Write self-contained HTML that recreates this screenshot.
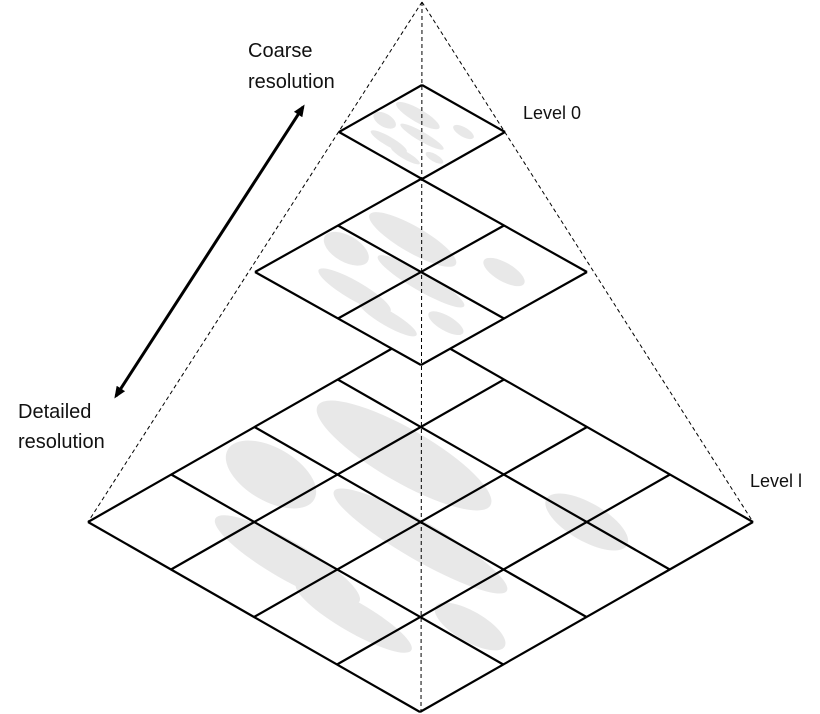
<!DOCTYPE html>
<html><head><meta charset="utf-8"><style>
html,body{margin:0;padding:0;background:#fff;}
svg{display:block;}
text{font-family:"Liberation Sans",sans-serif;font-size:20px;fill:#111;}
</style></head><body>
<svg id="s" width="820" height="714" viewBox="0 0 820 714">
<defs>
<marker id="ah" markerWidth="12" markerHeight="10" refX="9" refY="5" orient="auto-start-reverse" markerUnits="userSpaceOnUse">
<path d="M0,0 L12,5 L0,10 Z" fill="#000"/></marker>
</defs>
<g id="layers"></g>
<g stroke="#000" stroke-width="1" stroke-dasharray="4,3" fill="none">
<line x1="422" y1="2" x2="88" y2="522"/>
<line x1="422" y1="2" x2="753" y2="522"/>
<line x1="422" y1="2" x2="421" y2="712"/>
</g>
<line x1="116" y1="396" x2="303" y2="107" stroke="#000" stroke-width="3" marker-start="url(#ah)" marker-end="url(#ah)"/>
<text x="248" y="57">Coarse</text>
<text x="248" y="88">resolution</text>
<text x="18" y="418">Detailed</text>
<text x="18" y="448">resolution</text>
<text x="523" y="119" style="font-size:18px">Level 0</text>
<text x="750" y="487" style="font-size:18px">Level l</text>
</svg>
<script>
const levelNames = ["level-l","level-1","level-0"];
const gridSizes = [4,2,1];
const geom = [
 {t:[421,332],l:[88,522],r:[753,522],b:[421,712]},
 {t:[421,179],l:[255,272],r:[587,272],b:[421,366]},
 {t:[422,85],l:[339,132],r:[505,132],b:[421,179]}
];
const NS="http://www.w3.org/2000/svg";
const layers=document.getElementById('layers');
function pt(g,u,v){
  return [g.t[0]+u*(g.r[0]-g.t[0])+v*(g.l[0]-g.t[0]), g.t[1]+u*(g.r[1]-g.t[1])+v*(g.l[1]-g.t[1])];
}
const blobs=[[0.3,0.35,0.3,0.14],[0.55,0.55,0.3,0.1],[0.75,0.25,0.14,0.1],[0.4,0.8,0.25,0.1],[0.85,0.7,0.12,0.08],[0.15,0.6,0.15,0.14],[0.65,0.85,0.2,0.08]];
gridSizes.forEach((n,i)=>{
  const g=geom[i];
  const grp=document.createElementNS(NS,'g');
  
  
  const poly=document.createElementNS(NS,'polygon');
  poly.setAttribute('points',[g.t,g.r,g.b,g.l].map(p=>p.join(',')).join(' '));
  poly.setAttribute('fill','#fff');
  grp.appendChild(poly);
  blobs.forEach(b=>{
    const c=pt(g,b[0],b[1]);
    const w=(g.r[0]-g.l[0]);const h=(g.b[1]-g.t[1]);
    const e=document.createElementNS(NS,'ellipse');
    
    
    e.setAttribute('cx',c[0]);e.setAttribute('cy',c[1]);
    e.setAttribute('rx',b[2]*w*0.5);e.setAttribute('ry',b[3]*h*0.5);
    e.setAttribute('fill','#e8e8e8');
    e.setAttribute('transform','rotate(30 '+c[0]+' '+c[1]+')');
    grp.appendChild(e);
  });
  for(let k=0;k<=n;k++){
    const a=pt(g,k/n,0),b=pt(g,k/n,1);
    const c=pt(g,0,k/n),d=pt(g,1,k/n);
    [[a,b],[c,d]].forEach(s=>{
      const ln=document.createElementNS(NS,'line');
      
      
      ln.setAttribute('x1',s[0][0]);ln.setAttribute('y1',s[0][1]);
      ln.setAttribute('x2',s[1][0]);ln.setAttribute('y2',s[1][1]);
      ln.setAttribute('stroke','#000');ln.setAttribute('stroke-width','2.2');
      grp.appendChild(ln);
    });
  }
  layers.appendChild(grp);
});
</script>
</body></html>
